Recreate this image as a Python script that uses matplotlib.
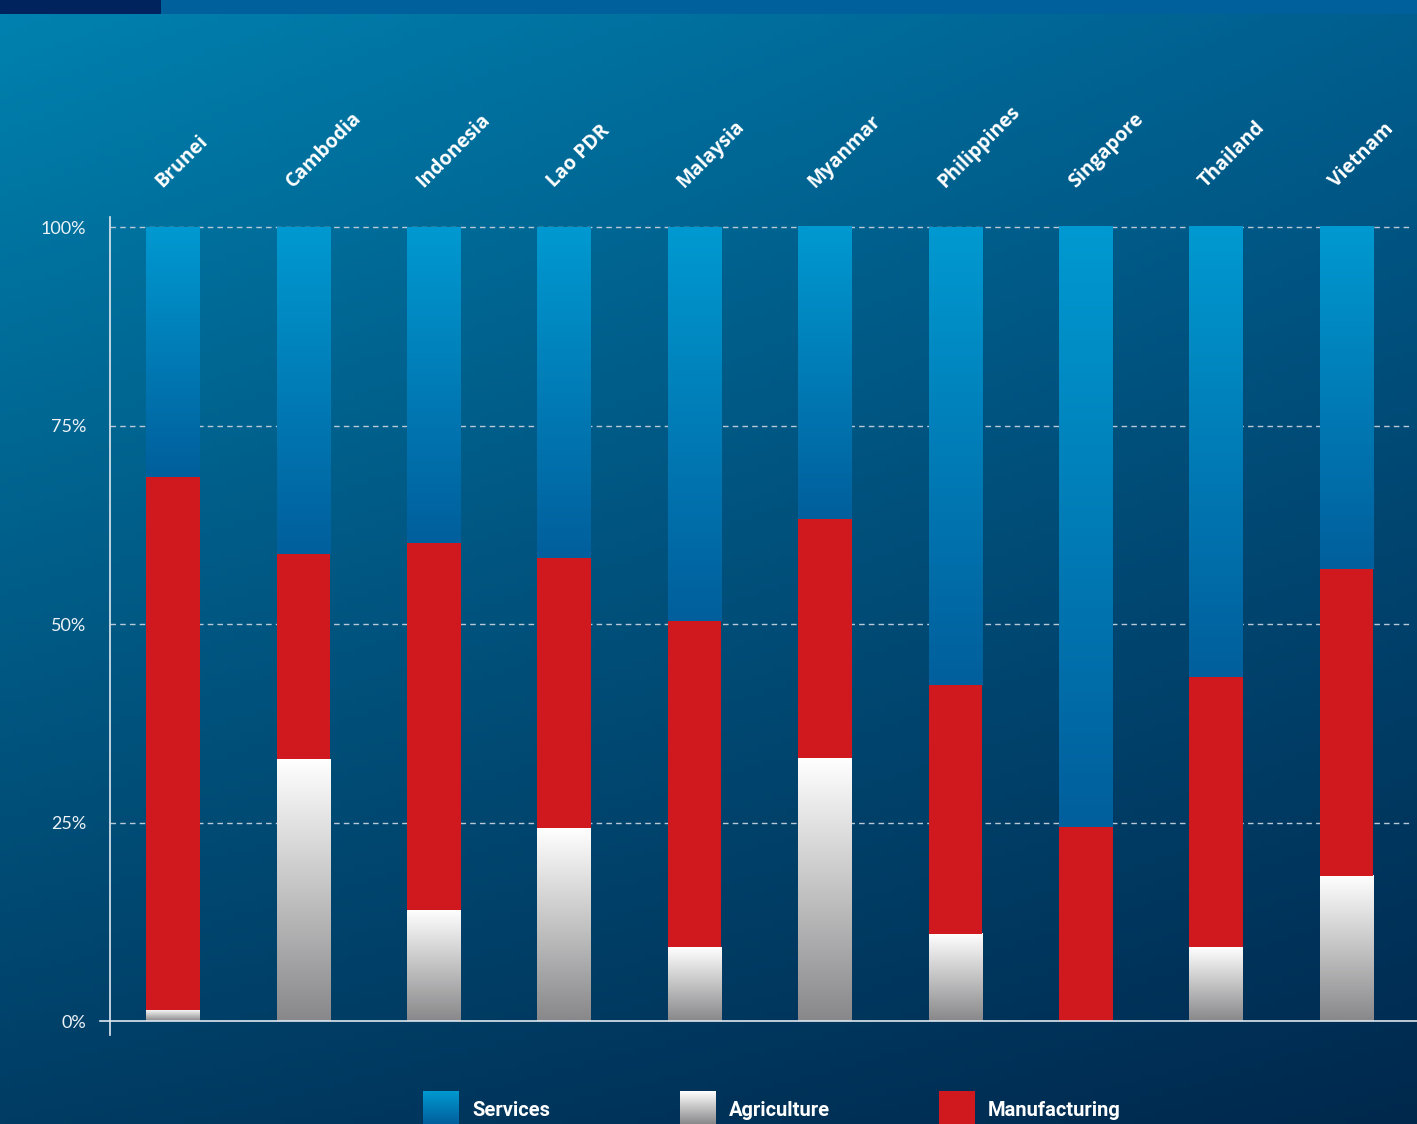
import numpy as np
import matplotlib.pyplot as plt
from matplotlib.colors import LinearSegmentedColormap, to_rgb
from matplotlib.patches import Rectangle

countries = ['Brunei', 'Cambodia', 'Indonesia', 'Lao PDR', 'Malaysia',
             'Myanmar', 'Philippines', 'Singapore', 'Thailand', 'Vietnam']
agriculture = [1.4, 33.0, 14.0, 24.3, 9.3, 33.1, 11.0, 0.0, 9.3, 18.3]
manufacturing = [67.2, 25.9, 46.2, 34.1, 41.1, 30.1, 31.3, 24.4, 34.0, 38.6]
services = [100 - a - m for a, m in zip(agriculture, manufacturing)]
yticks = [0, 25, 50, 75, 100]
series_names = ['Services', 'Agriculture', 'Manufacturing']

W, H = 1417, 1124
fig = plt.figure(figsize=(W / 100, H / 100), dpi=100)

# diagonal background gradient
bg = fig.add_axes([0, 0, 1, 1], zorder=0)
bg.set_axis_off()
tl, tr = np.array(to_rgb('#0082b0')), np.array(to_rgb('#005f8f'))
bl, br = np.array(to_rgb('#003c64')), np.array(to_rgb('#00284d'))
u = np.linspace(0, 1, 200)[None, :, None]
v = np.linspace(0, 1, 160)[:, None, None]
img = (1 - v) * ((1 - u) * tl + u * tr) + v * ((1 - u) * bl + u * br)
bg.imshow(img, extent=[0, 1, 0, 1], aspect='auto', origin='upper')
bg.set_xlim(0, 1)
bg.set_ylim(0, 1)
# header stripe
bg.add_patch(Rectangle((0, 1 - 14 / H), 161 / W, 14 / H, color='#00235d', lw=0))
bg.add_patch(Rectangle((161 / W, 1 - 14 / H), 1, 14 / H, color='#00609b', lw=0))

ax = fig.add_axes([110 / W, 89 / H, 1 - 110 / W, (1035 - 217) / H], zorder=1)
ax.patch.set_alpha(0)

services_cmap = LinearSegmentedColormap.from_list('srv', ['#005f9c', '#0099d1'])
agri_cmap = LinearSegmentedColormap.from_list('agr', ['#88888a', '#ffffff'])
grad = np.linspace(0, 1, 256)[:, None]

x = np.arange(len(countries))
bw = 0.41
for i in x:
    a, m, s = agriculture[i], manufacturing[i], services[i]
    if a > 0:
        ax.imshow(grad, cmap=agri_cmap, origin='lower', aspect='auto',
                  extent=[i - bw / 2, i + bw / 2, 0, a], zorder=3)
    ax.bar(i, m, bw, bottom=a, color='#d0191e', lw=0, zorder=3)
    ax.imshow(grad, cmap=services_cmap, origin='lower', aspect='auto',
              extent=[i - bw / 2, i + bw / 2, a + m, 100], zorder=3)
    ax.text(i - 0.08, 104.9, countries[i], rotation=45, rotation_mode='anchor',
            ha='left', va='baseline', color='white', fontsize=14,
            fontweight='bold', family='Open Sans')

x0, x1 = -0.483, len(countries) - 1 + 0.54
ax.set_xlim(x0, x1)
ax.set_ylim(-1.76, 101.3)

for t in yticks[1:]:
    ax.plot([x0, len(countries) - 1 + 0.48], [t, t], ls=(0, (4, 3)),
            color='#b9c8d6', lw=1, zorder=2)
ax.plot([x0 - 0.077, x1], [0, 0], color='#dfe7ef', lw=1.2, zorder=4,
        clip_on=False)

for side in ['top', 'right', 'bottom']:
    ax.spines[side].set_visible(False)
ax.spines['left'].set_color('#dfe7ef')
ax.spines['left'].set_linewidth(1.2)
ax.set_xticks([])
ax.set_yticks(yticks)
ax.set_yticklabels([f'{t}%' for t in yticks])
ax.tick_params(axis='y', length=0, pad=17, labelsize=13, labelcolor='#eef3f8')
for lab in ax.get_yticklabels():
    lab.set_family('Lato')
    lab.set_fontweight('normal')

# legend
leg_cols = [services_cmap, agri_cmap, None]
leg_x = [423, 680, 939]
for name, cm, lx in zip(series_names, leg_cols, leg_x):
    la = fig.add_axes([lx / W, 0, 36 / W, 33 / H], zorder=2)
    la.set_axis_off()
    if cm is None:
        la.add_patch(Rectangle((0, 0), 1, 1, color='#d0191e', lw=0))
    else:
        la.imshow(grad, cmap=cm, origin='lower', aspect='auto', extent=[0, 1, 0, 1])
    la.set_xlim(0, 1)
    la.set_ylim(0, 1)
    fig.text((lx + 49) / W, 14 / H, name, color='white', fontsize=14.5,
             fontweight='bold', family='Roboto', ha='left', va='center')

fig.savefig('out.png', dpi=100)
